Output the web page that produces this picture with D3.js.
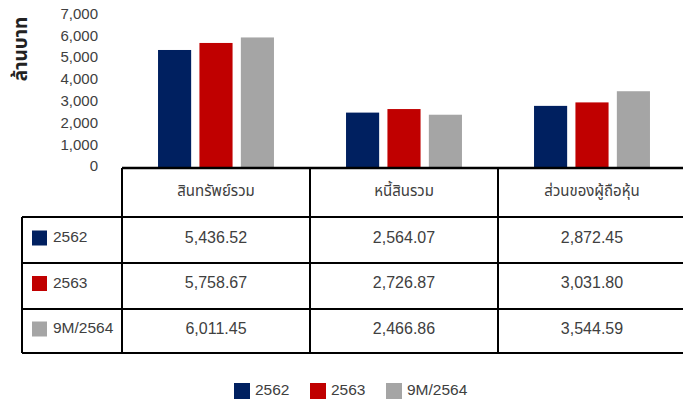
<!DOCTYPE html>
<html>
<head>
<meta charset="utf-8">
<script src="https://cdn.jsdelivr.net/npm/d3@7"></script>
<style>
html,body{margin:0;padding:0;background:#fff;}
svg{display:block;}
text{font-family:"Liberation Sans","Noto Sans Thai","Tahoma",Arial,sans-serif;fill:#404040;}
</style>
</head>
<body>
<svg id="chart" width="683" height="402"></svg>
<script>
const categories = ["สินทรัพย์รวม", "หนี้สินรวม", "ส่วนของผู้ถือหุ้น"];
const seriesNames = ["2562", "2563", "9M/2564"];
const values2562 = [5436.52, 2564.07, 2872.45];
const values2563 = [5758.67, 2726.87, 3031.80];
const values9M2564 = [6011.45, 2466.86, 3544.59];
const seriesColors = ["#002060", "#C00000", "#A5A5A5"];
const yTicks = [0, 1000, 2000, 3000, 4000, 5000, 6000, 7000];
const yTitle = "ล้านบาท";

const seriesValues = [values2562, values2563, values9M2564];
const svg = d3.select("#chart");

const y = d3.scaleLinear().domain([0, 7000]).range([168.5, 15.9]);
const x0 = d3.scaleBand().domain(categories).range([122, 686]).padding(0);
const x1 = d3.scaleBand().domain(seriesNames).range([0, x0.bandwidth()]).paddingInner(0.2).paddingOuter(0.87);

const fmt = d3.format(",.2f");

// Bars
categories.forEach((cat, ci) => {
  const g = svg.append("g").attr("transform", `translate(${x0(cat)},0)`);
  seriesNames.forEach((s, si) => {
    const v = seriesValues[si][ci];
    g.append("rect")
      .attr("x", x1(s))
      .attr("y", y(v))
      .attr("width", x1.bandwidth())
      .attr("height", y(0) - y(v))
      .attr("fill", seriesColors[si]);
  });
});

// Y axis tick labels
const yAxis = d3.axisLeft(y).tickValues(yTicks).tickFormat(d3.format(",")).tickSize(0).tickPadding(0);
const ya = svg.append("g").attr("transform", "translate(98,-2.5)").call(yAxis);
ya.select(".domain").remove();
ya.selectAll("text").attr("font-size", 15).attr("fill", "#404040")
  .style("font-family", '"Liberation Sans",Arial,sans-serif');

// Y title
svg.append("text")
  .attr("transform", "translate(20,49) rotate(-90)")
  .attr("text-anchor", "middle")
  .attr("dy", "0.35em")
  .attr("font-size", 19)
  .attr("font-weight", "bold")
  .style("fill", "#222")
  .text(yTitle);

// Table
const rowTops = [168, 217, 263, 309, 353];
const lineColor = "#000";
const tbl = svg.append("g");
tbl.append("line").attr("x1", 122).attr("x2", 683).attr("y1", rowTops[0]).attr("y2", rowTops[0]).attr("stroke", lineColor).attr("stroke-width", 2.5);
[1, 2, 3, 4].forEach(i => {
  tbl.append("line").attr("x1", 22).attr("x2", 683).attr("y1", rowTops[i]).attr("y2", rowTops[i]).attr("stroke", lineColor).attr("stroke-width", 2);
});
tbl.append("line").attr("x1", 22).attr("x2", 22).attr("y1", rowTops[1]).attr("y2", rowTops[4]).attr("stroke", lineColor).attr("stroke-width", 2);
categories.forEach(cat => {
  const xx = x0(cat);
  tbl.append("line").attr("x1", xx).attr("x2", xx).attr("y1", rowTops[0]).attr("y2", rowTops[4]).attr("stroke", lineColor).attr("stroke-width", 2);
});

// Header text
categories.forEach(cat => {
  tbl.append("text")
    .attr("x", x0(cat) + x0.bandwidth() / 2)
    .attr("y", 191)
    .attr("dy", "0.35em")
    .attr("text-anchor", "middle")
    .attr("font-size", 15)
    .text(cat);
});

// Values
const rowCenters = [237, 282.5, 328];
seriesNames.forEach((s, si) => {
  categories.forEach((cat, ci) => {
    tbl.append("text")
      .attr("x", x0(cat) + x0.bandwidth() / 2)
      .attr("y", rowCenters[si])
      .attr("dy", "0.35em")
      .attr("text-anchor", "middle")
      .attr("font-size", 16)
      .text(fmt(seriesValues[si][ci]));
  });
  tbl.append("rect").attr("x", 32).attr("y", rowCenters[si] - 6.5).attr("width", 15).attr("height", 15).attr("fill", seriesColors[si]);
  tbl.append("text")
    .attr("x", 53)
    .attr("y", rowCenters[si])
    .attr("dy", "0.35em")
    .attr("font-size", 15.5)
    .text(s);
});

// Bottom legend
const legendX = [234, 310, 386];
seriesNames.forEach((s, si) => {
  svg.append("rect").attr("x", legendX[si]).attr("y", 383).attr("width", 16).attr("height", 16).attr("fill", seriesColors[si]);
  svg.append("text").attr("x", legendX[si] + 21).attr("y", 390).attr("dy", "0.35em").attr("font-size", 15.5).text(s);
});
</script>
</body>
</html>
